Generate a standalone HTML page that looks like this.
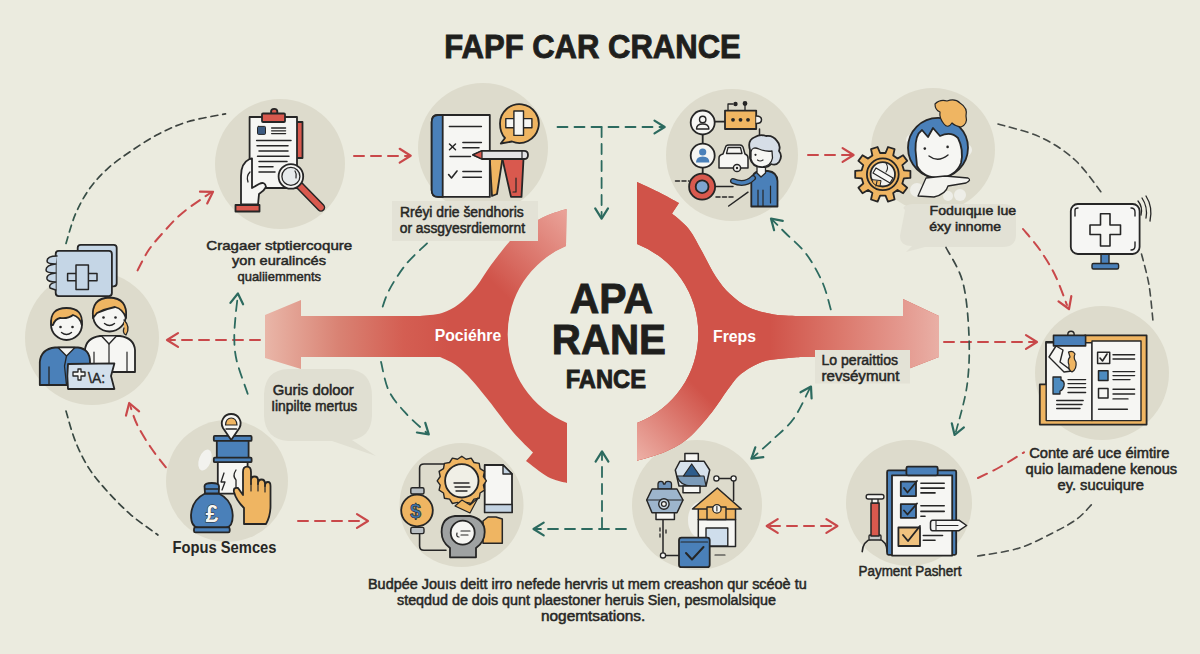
<!DOCTYPE html>
<html><head><meta charset="utf-8"><style>
html,body{margin:0;padding:0;background:#ebebdf;width:1200px;height:654px;overflow:hidden}
svg{display:block}
text{font-family:"Liberation Sans",sans-serif}
</style></head><body>
<svg width="1200" height="654" viewBox="0 0 1200 654">
<defs>
<linearGradient id="gL" gradientUnits="userSpaceOnUse" x1="265" y1="0" x2="450" y2="0">
 <stop offset="0" stop-color="#e9b6a8"/><stop offset="0.4" stop-color="#d98273"/>
 <stop offset="0.75" stop-color="#d45e52"/><stop offset="1" stop-color="#d05349"/></linearGradient>
<linearGradient id="gLt" gradientUnits="userSpaceOnUse" x1="566" y1="212" x2="495" y2="285">
 <stop offset="0" stop-color="#eeb0a6" stop-opacity="0.85"/><stop offset="1" stop-color="#eeb0a6" stop-opacity="0"/></linearGradient>
<linearGradient id="gR" gradientUnits="userSpaceOnUse" x1="770" y1="0" x2="940" y2="0">
 <stop offset="0" stop-color="#d05349"/><stop offset="0.4" stop-color="#db776b"/>
 <stop offset="0.77" stop-color="#e4988e"/><stop offset="1" stop-color="#e9b0a6"/></linearGradient>
<linearGradient id="gRb" gradientUnits="userSpaceOnUse" x1="640" y1="460" x2="705" y2="395">
 <stop offset="0" stop-color="#efb8ae" stop-opacity="0.9"/><stop offset="1" stop-color="#efb8ae" stop-opacity="0"/></linearGradient>
<linearGradient id="gArcA" gradientUnits="userSpaceOnUse" x1="0" y1="245" x2="0" y2="110">
 <stop offset="0" stop-color="#2f5f50"/><stop offset="0.5" stop-color="#3a4742"/><stop offset="1" stop-color="#3d403d"/></linearGradient>
<linearGradient id="gArcB" gradientUnits="userSpaceOnUse" x1="0" y1="405" x2="0" y2="540">
 <stop offset="0" stop-color="#374a43"/><stop offset="1" stop-color="#3a433f"/></linearGradient>
<linearGradient id="gArcC" gradientUnits="userSpaceOnUse" x1="0" y1="245" x2="0" y2="440">
 <stop offset="0" stop-color="#3d4341"/><stop offset="1" stop-color="#2d6b5c"/></linearGradient>
</defs>
<rect width="1200" height="654" fill="#ebebdf"/>
<circle cx="280" cy="164" r="65" fill="#dddbcc"/>
<circle cx="483" cy="148" r="65" fill="#dddbcc"/>
<circle cx="732" cy="155" r="66" fill="#dddbcc"/>
<circle cx="933" cy="150" r="62" fill="#dddbcc"/>
<circle cx="92" cy="338" r="67" fill="#dddbcc"/>
<circle cx="227" cy="481" r="61" fill="#dddbcc"/>
<circle cx="461.5" cy="505" r="62" fill="#dddbcc"/>
<circle cx="697" cy="505" r="65" fill="#dddbcc"/>
<circle cx="909" cy="503" r="63" fill="#dddbcc"/>
<circle cx="1102" cy="373" r="67" fill="#dddbcc"/>
<path d="M905,210 Q900,206 912,204 L1005,204 Q1016,205 1016,216 L1016,236 Q1015,247 1003,247 L925,247 L906,252 L912,246 Q900,246 900,236 Z" fill="#e2e1d5"/>
<path d="M288,369 L348,369 Q372,371 372,396 L372,416 Q371,437 352,440 L376,456 L332,441 L288,441 Q265,439 264,416 L264,394 Q265,370 288,369 Z" fill="#e0dfd2"/>
<path d="M566.5,209.0 C563.2,210.1 553.1,212.8 547.0,215.5 C540.9,218.2 535.8,221.1 530.0,225.0 C524.2,228.9 518.5,232.3 512.0,239.0 C505.5,245.7 497.0,257.0 491.0,265.0 C485.0,273.0 481.3,280.5 476.0,287.0 C470.7,293.5 464.7,299.7 459.0,304.0 C453.3,308.3 448.5,311.0 442.0,313.0 C435.5,315.0 423.7,315.5 420.0,316.0 L301,316 L301,300 L265,315 L265,358 L301,369 L301,357L440.0,357.0 C442.5,358.2 450.2,361.2 455.0,364.5 C459.8,367.8 463.3,370.9 469.0,377.0 C474.7,383.1 481.7,391.8 489.0,401.0 C496.3,410.2 505.7,423.4 513.0,432.0 C520.3,440.6 529.7,449.1 533.0,452.5L526.0,461.0 C529.7,463.7 541.2,473.3 548.0,477.0 C554.8,480.7 563.8,482.0 567.0,483.0 L567,423 A96,96 0 0 1 566,246 Z" fill="url(#gL)"/>
<path d="M566.5,209.0 C563.2,210.1 553.1,212.8 547.0,215.5 C540.9,218.2 535.8,221.1 530.0,225.0 C524.2,228.9 518.5,232.3 512.0,239.0 C505.5,245.7 497.0,257.0 491.0,265.0 C485.0,273.0 481.3,280.5 476.0,287.0 C470.7,293.5 464.7,299.7 459.0,304.0 C453.3,308.3 448.5,311.0 442.0,313.0 C435.5,315.0 423.7,315.5 420.0,316.0 L301,316 L301,300 L265,315 L265,358 L301,369 L301,357L440.0,357.0 C442.5,358.2 450.2,361.2 455.0,364.5 C459.8,367.8 463.3,370.9 469.0,377.0 C474.7,383.1 481.7,391.8 489.0,401.0 C496.3,410.2 505.7,423.4 513.0,432.0 C520.3,440.6 529.7,449.1 533.0,452.5L526.0,461.0 C529.7,463.7 541.2,473.3 548.0,477.0 C554.8,480.7 563.8,482.0 567.0,483.0 L567,423 A96,96 0 0 1 566,246 Z" fill="url(#gLt)"/>
<path d="M637.0,182.0 C640.6,183.7 651.5,188.5 658.5,192.0 C665.5,195.5 675.6,201.2 679.0,203.0L672.0,213.5 C674.8,216.1 683.7,222.5 688.8,229.0 C693.9,235.5 698.1,244.6 702.6,252.6 C707.1,260.6 711.4,270.1 716.0,277.0 C720.6,283.9 724.5,288.9 730.0,294.0 C735.5,299.1 741.7,304.2 749.0,307.6 C756.3,311.0 765.5,313.1 774.0,314.5 C782.5,315.9 795.7,315.8 800.0,316.0 L903,316 L903,299 L939,316 L939,357 L903,371 L903,357L800.0,357.0 C796.8,357.3 786.8,357.9 780.5,358.7 C774.2,359.5 768.5,359.5 762.0,362.0 C755.5,364.5 747.2,369.0 741.5,373.6 C735.8,378.2 732.8,383.1 727.8,389.6 C722.8,396.1 718.2,404.5 711.7,412.5 C705.2,420.5 696.4,431.3 688.8,437.8 C681.2,444.3 674.5,447.7 665.9,451.5 C657.3,455.3 641.8,459.2 637.0,460.7 L637,423 A96,96 0 0 0 637,244 Z" fill="#d05349"/>
<path d="M637.0,182.0 C640.6,183.7 651.5,188.5 658.5,192.0 C665.5,195.5 675.6,201.2 679.0,203.0L672.0,213.5 C674.8,216.1 683.7,222.5 688.8,229.0 C693.9,235.5 698.1,244.6 702.6,252.6 C707.1,260.6 711.4,270.1 716.0,277.0 C720.6,283.9 724.5,288.9 730.0,294.0 C735.5,299.1 741.7,304.2 749.0,307.6 C756.3,311.0 765.5,313.1 774.0,314.5 C782.5,315.9 795.7,315.8 800.0,316.0 L903,316 L903,299 L939,316 L939,357 L903,371 L903,357L800.0,357.0 C796.8,357.3 786.8,357.9 780.5,358.7 C774.2,359.5 768.5,359.5 762.0,362.0 C755.5,364.5 747.2,369.0 741.5,373.6 C735.8,378.2 732.8,383.1 727.8,389.6 C722.8,396.1 718.2,404.5 711.7,412.5 C705.2,420.5 696.4,431.3 688.8,437.8 C681.2,444.3 674.5,447.7 665.9,451.5 C657.3,455.3 641.8,459.2 637.0,460.7 L637,423 A96,96 0 0 0 637,244 Z" fill="url(#gR)" />
<path d="M637.0,182.0 C640.6,183.7 651.5,188.5 658.5,192.0 C665.5,195.5 675.6,201.2 679.0,203.0L672.0,213.5 C674.8,216.1 683.7,222.5 688.8,229.0 C693.9,235.5 698.1,244.6 702.6,252.6 C707.1,260.6 711.4,270.1 716.0,277.0 C720.6,283.9 724.5,288.9 730.0,294.0 C735.5,299.1 741.7,304.2 749.0,307.6 C756.3,311.0 765.5,313.1 774.0,314.5 C782.5,315.9 795.7,315.8 800.0,316.0 L903,316 L903,299 L939,316 L939,357 L903,371 L903,357L800.0,357.0 C796.8,357.3 786.8,357.9 780.5,358.7 C774.2,359.5 768.5,359.5 762.0,362.0 C755.5,364.5 747.2,369.0 741.5,373.6 C735.8,378.2 732.8,383.1 727.8,389.6 C722.8,396.1 718.2,404.5 711.7,412.5 C705.2,420.5 696.4,431.3 688.8,437.8 C681.2,444.3 674.5,447.7 665.9,451.5 C657.3,455.3 641.8,459.2 637.0,460.7 L637,423 A96,96 0 0 0 637,244 Z" fill="url(#gRb)"/>
<path d="M354,156 L409,156" fill="none" stroke="#c9484a" stroke-width="2.0" stroke-dasharray="10 7" stroke-linecap="round" />
<path d="M399.7,162.6 L410.7,155.7 L399.7,148.8" fill="none" stroke="#c9484a" stroke-width="2.2" stroke-linecap="round" stroke-linejoin="round"/>
<path d="M808,155 L852,155" fill="none" stroke="#c9484a" stroke-width="2.0" stroke-dasharray="10 7" stroke-linecap="round" />
<path d="M842.6,161.9 L853.6,155 L842.6,148.1" fill="none" stroke="#c9484a" stroke-width="2.2" stroke-linecap="round" stroke-linejoin="round"/>
<path d="M260,340 L170,340" fill="none" stroke="#c9484a" stroke-width="2.0" stroke-dasharray="10 7" stroke-linecap="round" />
<path d="M178.0,333.1 L167,340 L178.0,346.9" fill="none" stroke="#c9484a" stroke-width="2.2" stroke-linecap="round" stroke-linejoin="round"/>
<path d="M298,521 L366,521" fill="none" stroke="#c9484a" stroke-width="2.0" stroke-dasharray="10 7" stroke-linecap="round" />
<path d="M357.0,527.9 L368,521 L357.0,514.1" fill="none" stroke="#c9484a" stroke-width="2.2" stroke-linecap="round" stroke-linejoin="round"/>
<path d="M944,342 L1035,342" fill="none" stroke="#c9484a" stroke-width="2.0" stroke-dasharray="10 7" stroke-linecap="round" />
<path d="M1026.0,348.9 L1037,342 L1026.0,335.1" fill="none" stroke="#c9484a" stroke-width="2.2" stroke-linecap="round" stroke-linejoin="round"/>
<path d="M770,526 L835,526" fill="none" stroke="#c9484a" stroke-width="2.0" stroke-dasharray="10 7" stroke-linecap="round" />
<path d="M826.4,532.9 L837.4,526 L826.4,519.1" fill="none" stroke="#c9484a" stroke-width="2.2" stroke-linecap="round" stroke-linejoin="round"/>
<path d="M777.7,519.1 L766.7,526 L777.7,532.9" fill="none" stroke="#c9484a" stroke-width="2.2" stroke-linecap="round" stroke-linejoin="round"/>
<path d="M137.6,270.4 C139.4,267.0 144.2,256.6 148.7,250.0 C153.2,243.4 159.0,237.1 164.7,230.8 C170.4,224.5 175.3,218.8 183.0,212.4 C190.7,206.0 206.3,195.8 211.0,192.5" fill="none" stroke="#c9484a" stroke-width="2.0" stroke-dasharray="10 7" stroke-linecap="round" />
<path d="M207.2,203.4 L213,191.8 L200.0,191.7" fill="none" stroke="#c9484a" stroke-width="2.2" stroke-linecap="round" stroke-linejoin="round"/>
<path d="M165.9,467.3 C163.4,464.1 155.8,454.9 151.0,447.8 C146.2,440.7 140.7,431.9 137.2,424.8 C133.7,417.7 131.2,408.3 130.0,405.0" fill="none" stroke="#c9484a" stroke-width="2.0" stroke-dasharray="10 7" stroke-linecap="round" />
<path d="M139.1,411.4 L129.2,403 L126.0,415.6" fill="none" stroke="#c9484a" stroke-width="2.2" stroke-linecap="round" stroke-linejoin="round"/>
<path d="M1023.0,229.0 C1025.8,232.5 1034.7,242.3 1040.0,250.0 C1045.3,257.7 1050.5,265.8 1055.0,275.0 C1059.5,284.2 1065.0,300.0 1067.0,305.0" fill="none" stroke="#c9484a" stroke-width="2.0" stroke-dasharray="10 7" stroke-linecap="round" />
<path d="M1058.5,301.3 L1069,309 L1071.3,296.2" fill="none" stroke="#c9484a" stroke-width="2.2" stroke-linecap="round" stroke-linejoin="round"/>
<path d="M978.0,478.0 C981.7,476.2 992.3,471.3 1000.0,467.0 C1007.7,462.7 1020.0,454.8 1024.0,452.3" fill="none" stroke="#c9484a" stroke-width="2.0" stroke-dasharray="10 7" stroke-linecap="round" />
<path d="M66.0,243.4 C67.5,238.6 71.4,223.7 75.2,214.7 C79.0,205.7 83.6,197.2 89.0,189.5 C94.4,181.8 100.5,175.1 107.4,168.8 C114.3,162.5 121.9,157.3 130.3,151.6 C138.7,145.9 148.2,139.4 157.8,134.4 C167.4,129.4 176.4,125.2 187.7,121.8 C199.0,118.4 219.2,115.1 225.5,113.8" fill="none" stroke="url(#gArcA)" stroke-width="1.7" stroke-dasharray="7 5" stroke-linecap="round" />
<path d="M66.0,411.0 C67.5,416.0 71.4,431.3 75.2,440.9 C79.0,450.5 83.6,460.0 89.0,468.4 C94.4,476.8 100.5,483.8 107.4,491.4 C114.3,499.0 121.9,507.0 130.3,514.3 C138.7,521.6 153.3,531.5 157.9,535.0" fill="none" stroke="url(#gArcB)" stroke-width="1.7" stroke-dasharray="7 5" stroke-linecap="round" />
<path d="M247.7,393.8 C245.9,388.3 238.9,369.9 236.7,360.7 C234.5,351.5 234.5,346.0 234.3,338.7 C234.1,331.4 234.9,324.0 235.5,316.7 C236.1,309.4 237.5,298.6 237.9,295.0" fill="none" stroke="#2c6a5f" stroke-width="1.8" stroke-dasharray="10 7" stroke-linecap="round" />
<path d="M243.1,304.3 L237.9,293.5 L230.4,302.9" fill="none" stroke="#2c6a5f" stroke-width="2.2" stroke-linecap="round" stroke-linejoin="round"/>
<path d="M427.0,243.4 C423.5,246.9 412.3,256.5 405.9,264.4 C399.5,272.3 392.8,283.1 388.7,291.0 C384.6,298.9 382.3,308.5 381.0,312.0" fill="none" stroke="#2c6a5f" stroke-width="1.8" stroke-dasharray="10 7" stroke-linecap="round" />
<path d="M381.0,361.8 C382.3,366.6 384.6,381.9 388.7,390.5 C392.8,399.1 399.3,406.1 405.9,413.4 C412.4,420.6 424.3,430.6 428.0,434.0" fill="none" stroke="#2c6a5f" stroke-width="1.8" stroke-dasharray="10 7" stroke-linecap="round" />
<path d="M416.9,432.5 L428.8,434.4 L425.3,422.9" fill="none" stroke="#2c6a5f" stroke-width="2.2" stroke-linecap="round" stroke-linejoin="round"/>
<path d="M557.5,127 L663,127" fill="none" stroke="#2c6a5f" stroke-width="1.8" stroke-dasharray="10 7" stroke-linecap="round" />
<path d="M654.5,133.4 L664.7,127 L654.5,120.6" fill="none" stroke="#2c6a5f" stroke-width="2.2" stroke-linecap="round" stroke-linejoin="round"/>
<path d="M601.6,127 L601.6,217" fill="none" stroke="#2c6a5f" stroke-width="1.8" stroke-dasharray="10 7" stroke-linecap="round" />
<path d="M595.2,208.4 L601.6,218.6 L608.0,208.4" fill="none" stroke="#2c6a5f" stroke-width="2.2" stroke-linecap="round" stroke-linejoin="round"/>
<path d="M626,529 L535,529" fill="none" stroke="#2c6a5f" stroke-width="1.8" stroke-dasharray="10 7" stroke-linecap="round" />
<path d="M543.7,522.6 L533.5,529 L543.7,535.4" fill="none" stroke="#2c6a5f" stroke-width="2.2" stroke-linecap="round" stroke-linejoin="round"/>
<path d="M602,528 L602,453" fill="none" stroke="#2c6a5f" stroke-width="1.8" stroke-dasharray="10 7" stroke-linecap="round" />
<path d="M608.4,461.6 L602,451.4 L595.6,461.6" fill="none" stroke="#2c6a5f" stroke-width="2.2" stroke-linecap="round" stroke-linejoin="round"/>
<path d="M830.8,309.4 C829.4,304.9 826.6,291.8 822.5,282.5 C818.4,273.2 812.2,261.9 806.0,253.7 C799.8,245.4 791.1,238.7 785.4,233.0 C779.7,227.3 774.2,221.8 772.0,219.6" fill="none" stroke="#2c6a5f" stroke-width="1.8" stroke-dasharray="10 7" stroke-linecap="round" />
<path d="M782.8,220.9 L771,218.6 L774.1,230.2" fill="none" stroke="#2c6a5f" stroke-width="2.2" stroke-linecap="round" stroke-linejoin="round"/>
<path d="M810.0,387.8 C807.3,392.9 799.8,410.1 793.6,418.7 C787.4,427.3 779.9,432.8 773.0,439.4 C766.1,445.9 755.8,454.9 752.4,458.0" fill="none" stroke="#2c6a5f" stroke-width="1.8" stroke-dasharray="10 7" stroke-linecap="round" />
<path d="M811.6,398.5 L811,386.5 L800.5,392.3" fill="none" stroke="#2c6a5f" stroke-width="2.2" stroke-linecap="round" stroke-linejoin="round"/>
<path d="M755.3,447.3 L751.4,458.6 L763.3,457.1" fill="none" stroke="#2c6a5f" stroke-width="2.2" stroke-linecap="round" stroke-linejoin="round"/>
<path d="M946.0,247.5 C948.8,253.3 959.1,267.8 962.9,282.5 C966.7,297.2 968.3,318.8 969.0,336.0 C969.7,353.2 969.2,369.5 967.0,385.7 C964.8,401.9 957.5,425.1 955.6,433.0" fill="none" stroke="url(#gArcC)" stroke-width="1.7" stroke-dasharray="8 6" stroke-linecap="round" />
<path d="M951.8,423.3 L954.6,435 L963.9,427.4" fill="none" stroke="#2c6a5f" stroke-width="2.2" stroke-linecap="round" stroke-linejoin="round"/>
<path d="M998.0,124.0 C1005.0,126.2 1027.2,131.0 1040.0,137.0 C1052.8,143.0 1064.5,150.4 1075.0,160.0 C1085.5,169.6 1098.3,188.8 1103.0,194.6" fill="none" stroke="#454a47" stroke-width="1.6" stroke-dasharray="7 5" stroke-linecap="round" />
<path d="M1141.5,254.0 C1142.8,259.2 1147.1,273.8 1149.0,285.0 C1150.9,296.2 1152.3,315.0 1153.0,321.0" fill="none" stroke="#454a47" stroke-width="1.6" stroke-dasharray="7 5" stroke-linecap="round" />
<path d="M977.7,556.0 C984.6,554.7 1006.2,552.1 1018.8,548.2 C1031.3,544.3 1043.3,537.7 1053.0,532.8 C1062.7,527.9 1070.4,523.9 1077.0,519.0 C1083.6,514.1 1089.8,506.2 1092.4,503.7" fill="none" stroke="#454a47" stroke-width="1.6" stroke-dasharray="7 5" stroke-linecap="round" />
<g stroke="#262626" stroke-width="1.8" stroke-linejoin="round" stroke-linecap="round">
<rect x="295" y="122" width="7.5" height="36" fill="#d9594e"/>
<rect x="249.6" y="117" width="47.4" height="71" fill="#f6f6f3"/>
<circle cx="274.2" cy="112" r="3.2" fill="#d9594e"/>
<rect x="262" y="113.5" width="23" height="8.5" rx="1" fill="#d9594e"/>
<rect x="257.5" y="126.4" width="8" height="8" rx="1" fill="#3c5a80" stroke-width="1"/>
<line x1="271.6" y1="128" x2="285.6" y2="128" stroke-width="1.3"/>
<line x1="271.6" y1="130.8" x2="285.6" y2="130.8" stroke-width="1.3"/>
<line x1="271.6" y1="133.6" x2="285.6" y2="133.6" stroke-width="1.3"/>
<line x1="256.6" y1="140.4" x2="291" y2="140.4" stroke-width="1.5"/>
<line x1="257" y1="145.7" x2="288" y2="145.7" stroke-width="1.5"/>
<line x1="259" y1="151" x2="288" y2="151" stroke-width="1.5"/>
<line x1="257.5" y1="156.2" x2="289" y2="156.2" stroke-width="1.5"/>
<line x1="259" y1="161.5" x2="287" y2="161.5" stroke-width="1.5"/>
<line x1="259" y1="166.8" x2="273" y2="166.8" stroke-width="1.5"/>
<line x1="259" y1="172" x2="275" y2="172" stroke-width="1.5"/>
<path d="M241,204.5 L241,176 Q241,163 249.6,159 L252,158.5 L252,188 L259,184 Q265,181 266,187 Q264,191 259,194 L258,204.5 Z" fill="#f6f6f3"/>
<path d="M250,172 Q246,176 248,182" fill="none" stroke-width="1.3"/>
<rect x="235.5" y="205" width="24" height="6.5" fill="#d9594e"/>
<line x1="300" y1="186" x2="321" y2="207.5" stroke="#262626" stroke-width="8.5"/>
<line x1="300" y1="186" x2="321" y2="207.5" stroke="#d9594e" stroke-width="5.5"/>
<circle cx="290.9" cy="176.4" r="12.3" fill="#f6f6f3"/>
<circle cx="290.9" cy="176.4" r="9" fill="#e7ebec" stroke-width="1.3"/>
<path d="M295,171 Q297,174 296,178" fill="none" stroke-width="1.2"/>
</g>
<g stroke="#262626" stroke-width="1.8" stroke-linejoin="round" stroke-linecap="round">
<path d="M489.8,159 L502.4,159 L497,194 L492,196 Z" fill="#efb562"/>
<path d="M502.4,159 L523.5,159 L521.5,196.9 L511,196.9 Z" fill="#d9594e"/>
<path d="M516,178 L516,192 L513,192" fill="none" stroke-width="1.2"/>
<path d="M438,115 L489.8,115 L489.8,196.9 L438,196.9 Q431.7,196.9 431.7,190 L431.7,122 Q431.7,115 438,115 Z" fill="#f6f6f3"/>
<path d="M438,115 L442.7,115 L442.7,196.9 L438,196.9 Q431.7,196.9 431.7,190 L431.7,122 Q431.7,115 438,115 Z" fill="#4a80b9"/>
<line x1="449.4" y1="126.6" x2="481.4" y2="126.6" stroke-width="1.5"/>
<path d="M449.5,144 L455.5,149.7 M455.5,144 L449.5,149.7" stroke-width="1.5"/>
<line x1="462.9" y1="142.6" x2="481.4" y2="142.6" stroke-width="1.5"/>
<line x1="462.9" y1="147.7" x2="479" y2="147.7" stroke-width="1.5"/>
<line x1="450" y1="156.4" x2="470.5" y2="156.4" stroke-width="1.5"/>
<path d="M448.6,174.5 L451.5,178 L457,171" fill="none" stroke-width="1.6"/>
<line x1="462.9" y1="171.6" x2="481.4" y2="171.6" stroke-width="1.5"/>
<line x1="462.9" y1="177.2" x2="481.4" y2="177.2" stroke-width="1.5"/>
<path d="M482,150.8 L524,150.8 Q528,150.8 528,154.9 Q528,159 524,159 L482,159 L473,154.9 Z" fill="#e3e4e6"/>
<path d="M482,150.8 L473,154.9 L482,159 Z" fill="#d9594e" stroke-width="1.2"/>
<line x1="522" y1="151" x2="522" y2="159" stroke-width="1.2"/>
<path d="M505,138 Q500,133 500,123.6 A19.4,19.4 0 1 1 512,141.5 L500.8,143.5 Z" fill="#efb562"/>
<rect x="505.8" y="118.6" width="26.1" height="9.2" fill="#f6f6f3" stroke-width="1.4"/>
<rect x="513.9" y="111" width="9.6" height="24.4" fill="#f6f6f3" stroke-width="1.4"/>
</g>
<g stroke="#262626" stroke-width="1.8" stroke-linejoin="round" stroke-linecap="round" fill="none">
<line x1="702.7" y1="134" x2="702.7" y2="144"/>
<line x1="702.7" y1="167.5" x2="702.7" y2="174"/>
<line x1="714.6" y1="121.6" x2="725" y2="121.6"/>
<path d="M675.5,181 L689,181" stroke-dasharray="4 2.5" stroke-width="1.5"/>
<path d="M716,197 L734,197" stroke-dasharray="4 2.5" stroke-width="1.5"/>
<line x1="715.5" y1="186.5" x2="733" y2="186.5" stroke-width="1.5"/>
<line x1="728.7" y1="206" x2="748" y2="192.2" stroke-width="1.5"/>
<line x1="759.5" y1="129" x2="759.5" y2="137" stroke-width="1.5"/>
<path d="M728,111 L728,104 L733,104 M745,111 L745,104" stroke-width="1.3"/>
<circle cx="745" cy="103.5" r="1.5" fill="#262626"/>
<circle cx="735.5" cy="104" r="1.3" fill="#262626"/>
<rect x="725" y="110.6" width="31.2" height="18.4" fill="#efb562"/>
<path d="M756.2,116 Q761.5,116 761.5,119.8 Q761.5,123.6 756.2,123.6" fill="#f6f6f3" stroke-width="1.5"/>
<circle cx="733" cy="119.8" r="1.9" fill="#262626" stroke="none"/>
<circle cx="740.5" cy="119.8" r="1.9" fill="#262626" stroke="none"/>
<circle cx="748" cy="119.8" r="1.9" fill="#262626" stroke="none"/>
<circle cx="702.7" cy="122.5" r="12" fill="#f6f6f3"/>
<circle cx="702.7" cy="119.5" r="3.2" stroke-width="1.4"/>
<path d="M696.5,129 Q696.5,124 702.7,124 Q708.9,124 708.9,129 Z" stroke-width="1.4"/>
<circle cx="702.7" cy="155.6" r="12" fill="#f6f6f3"/>
<circle cx="702.7" cy="152" r="3.6" fill="#4a80b9" stroke="none"/>
<path d="M696,162.5 Q696,156.5 702.7,156.5 Q709.4,156.5 709.4,162.5 Z" fill="#4a80b9" stroke="none"/>
<circle cx="702.1" cy="186.7" r="13" fill="#d9594e"/>
<circle cx="702.1" cy="186.7" r="6.4" fill="#7ea4cf"/>
<path d="M719,168 L719,158 Q719,155 723,154 L726,146 Q727,145 729,145 L740,145 Q742,145 743,147 L745,154 Q748,155 748,158 L748,168 Z" fill="#f6f6f3" stroke-width="1.5"/>
<path d="M728,147.5 L726.5,153.5 L742,153.5 L740.5,147.5 Z" fill="#f6f6f3" stroke-width="1.3"/>
<circle cx="737" cy="168" r="3.6" fill="#f6f6f3" stroke-width="1.5"/>
<circle cx="737" cy="168" r="1.2" fill="#262626" stroke="none"/>
<path d="M751.3,206.5 L751.3,181 Q752,172 760,171 L768,171 Q777,172 777.5,181 L777.5,206.5 Z" fill="#4a80b9"/>
<path d="M770.5,186 L770.5,203 M758,190 L758,206.5 M763,190 L763,206.5" stroke-width="1.2"/>
<path d="M753,178 Q745,186 733,181" fill="none" stroke="#262626" stroke-width="6"/>
<path d="M753,178 Q745,186 733,181" fill="none" stroke="#4a80b9" stroke-width="3.4"/>
<path d="M757,166 L757,173 L761,177 L765.5,173 L765.5,166 Z" fill="#f6f6f3" stroke-width="1.3"/>
<path d="M750,150 Q747,140 755,137 Q760,134 766,136 Q773,135 777,141 Q781,145 779,151 Q783,156 779,162 Q776,166 771,164 Q768,168 762,167 Q752,167 750,158 Z" fill="#d6dee7"/>
<path d="M751,152 Q752,146 759,149 Q766,152 772,151 L772.5,158 Q771,166 762,167 Q753,167 751,159 Z" fill="#f6f6f3" stroke-width="1.3"/>
<circle cx="755.5" cy="154.8" r="1.1" fill="#262626" stroke="none"/>
<path d="M757.5,160 Q760,162 763,160" fill="none" stroke-width="1.2"/>
</g>
<g stroke="#262626" stroke-width="1.8" stroke-linejoin="round" stroke-linecap="round">
<circle cx="912" cy="140" r="6" fill="#eeeee8" stroke="none"/>
<circle cx="966" cy="150" r="6" fill="#eeeee8" stroke="none"/>
<circle cx="917" cy="190" r="7" fill="#eeeee8" stroke="none"/>
<circle cx="960" cy="195" r="6" fill="#eeeee8" stroke="none"/>
<circle cx="948" cy="196" r="5" fill="#eeeee8" stroke="none"/>
<circle cx="938" cy="147.8" r="30" fill="#4a80b9"/>
<path d="M915.5,150 Q915,135 922,130 L928,137 L933,128 L940,136 Q951,131 958,138 Q964,150 961,163 Q956,176 940,178 Q923,178 917,166 Z" fill="#f6f6f3"/>
<circle cx="924.8" cy="148.6" r="1.3" fill="#262626" stroke="none"/>
<circle cx="947.6" cy="146.9" r="1.3" fill="#262626" stroke="none"/>
<path d="M929,156 Q938,163 948,155" fill="none" stroke-width="1.4"/>
<path d="M935,104 Q940,99 947,101 Q955,98 960,103 Q968,108 966,116 Q968,124 961,127 Q955,126 952,123 Q948,129 944,124 Q939,118 940,112 Q935,110 935,104 Z" fill="#efb562" stroke-width="1.2"/>
<path d="M918,196 L926,178 L945,176 L968,178 Q972,180 966,183 L948,186 Q946,194 934,197 Z" fill="#f3f3ef" stroke-width="1.3"/>
<path d="M910.4,170.8 L910.4,177.8 L903.9,178.3 L902.3,183.5 L907.2,187.7 L903.1,193.3 L897.5,190.0 L893.2,193.1 L894.6,199.5 L888.0,201.6 L885.5,195.6 L880.1,195.6 L877.6,201.6 L871.0,199.5 L872.4,193.1 L868.1,190.0 L862.5,193.3 L858.4,187.7 L863.3,183.5 L861.7,178.3 L855.2,177.8 L855.2,170.8 L861.7,170.3 L863.3,165.1 L858.4,160.9 L862.5,155.3 L868.1,158.6 L872.4,155.5 L871.0,149.1 L877.6,147.0 L880.1,153.0 L885.5,153.0 L888.0,147.0 L894.6,149.1 L893.2,155.5 L897.5,158.6 L903.1,155.3 L907.2,160.9 L902.3,165.1 L903.9,170.3 Z" fill="#efb562"/>
<circle cx="882.8" cy="174.3" r="15.9" fill="#efb562"/>
<circle cx="882.8" cy="174.3" r="12.2" fill="#f1f1ee"/>
<path d="M872,180 Q873,186 880,186 L881,181 Z" fill="#efb562" stroke-width="1"/>
<path d="M873,173 L876,168 L893,178 L890,183 Z" fill="#f8f8f6" stroke-width="1.2"/>
<path d="M886,163 Q889,168 886,172 M877,181 L876,186" fill="none" stroke-width="1.1"/>
</g>
<g stroke="#262626" stroke-width="1.8" stroke-linejoin="round" stroke-linecap="round">
<rect x="77.7" y="244.8" width="39" height="41.5" rx="3" fill="#c5d6e6"/>
<rect x="55.7" y="250.9" width="56.2" height="45.2" rx="3" fill="#c5d6e6"/>
<rect x="67.6" y="273.5" width="29.4" height="7.3" fill="#c5d6e6" stroke-width="1.5"/>
<rect x="76" y="265" width="12.4" height="24.4" fill="#c5d6e6" stroke-width="1.5"/>
<path d="M57,256 Q47,256 47,261 Q47,264 55.7,264 M55.7,264 Q46,265 46,270 Q46,273 55.7,273 M55.7,273 Q46,274 47,279 Q48,282 55.7,282 M55.7,282 Q48,284 50,288 L55.7,290" fill="#c5d6e6" stroke-width="1.5"/>
<path d="M85,372 L85,350 Q86,338 100,336 L120,336 Q134,338 135,350 L135,372 Z" fill="#f6f6f3"/>
<path d="M102,336.5 L109,344 L116,336.5" fill="#f6f6f3" stroke-width="1.4"/>
<path d="M109,344 L109,372 M94,352 L94,372 M127,352 L127,372" stroke-width="1.2"/>
<circle cx="109.5" cy="315" r="16.5" fill="#f6f6f3"/>
<path d="M93,318 Q91,298 109.5,297.5 Q128,298 126,318 Q123,309 115,307 Q105,309 97,313 Z" fill="#efb562"/>
<path d="M124,320 Q131,327 126,335 Q122,333 124,328" fill="#efb562" stroke-width="1.3"/>
<circle cx="103.5" cy="317.5" r="1.3" fill="#262626" stroke="none"/><circle cx="115.5" cy="317.5" r="1.3" fill="#262626" stroke="none"/>
<path d="M104.5,323.5 Q109.5,327.5 114.5,323.5" fill="none" stroke-width="1.4"/>
<path d="M39.8,385 L39.8,362 Q41,349 55,347.5 L78,347.5 Q90,349 90,362 L90,385 Z" fill="#4a80b9"/>
<path d="M58,347.5 L66.5,356 L75,347.5 Z" fill="#f6f6f3" stroke-width="1.4"/>
<path d="M66.5,356 L64.5,366 L66.5,385 M49,367 L49,385" stroke-width="1.3" fill="none"/>
<circle cx="66.5" cy="324.5" r="15.5" fill="#f6f6f3"/>
<path d="M51.2,325 Q49.5,308 66.5,308 Q83.5,308 81.8,325 Q80,317 73,315 Q68,319 60,318 Q55,319 53,325 Z" fill="#efb562"/>
<circle cx="60.5" cy="327" r="1.3" fill="#262626" stroke="none"/><circle cx="72.5" cy="327" r="1.3" fill="#262626" stroke="none"/>
<path d="M61.5,332.5 Q66.5,336.5 71.5,332.5" fill="none" stroke-width="1.4"/>
<path d="M68,364 L114.4,363.4 L111,376 L114.4,389 L68,389 Q66.7,376 68,364 Z" fill="#d3e0ec"/>
<path d="M73,372 L78,372 L78,369 L81,369 L81,372 L85,372 L85,376 L81,376 L81,380 L78,380 L78,376 L73,376 Z" fill="#f6f6f3" stroke-width="1.3"/>
<text x="88" y="382.5" font-size="14" font-family="Liberation Sans" fill="#262626" stroke="#262626" stroke-width="0.4">\A:</text>
</g>
<g stroke="#262626" stroke-width="1.8" stroke-linejoin="round" stroke-linecap="round">
<ellipse cx="205" cy="460" rx="6" ry="11" fill="#f2f2ee" stroke="none" transform="rotate(20 205 460)"/>
<rect x="217.8" y="461.7" width="29.8" height="32" fill="#f6f6f3"/>
<path d="M224,473 L221,482 L225,482 L222,490 M236,470 Q232,476 236,480 L236,490" fill="none" stroke-width="1.3"/>
<rect x="213.8" y="435.9" width="37.8" height="5" rx="1" fill="#4a80b9"/>
<rect x="216.8" y="440.8" width="31.8" height="17" fill="#4a80b9"/>
<rect x="213.8" y="457.7" width="37.8" height="4.5" rx="1" fill="#4a80b9"/>
<path d="M231.2,440 L223,428 A9.4,9.4 0 1 1 239.4,428 Z" fill="#f6f6f3"/>
<path d="M225.5,425 Q226,418 231.2,418 Q236.4,418 237,425 Z" fill="#efb562" stroke-width="1.2"/>
<line x1="226" y1="429" x2="236.5" y2="429" stroke-width="1.4"/>
<path d="M244,524 L244,508 Q236,500 234,492 Q233,487 238,488 L243,495 L243,472 Q243,466.7 247,466.7 Q251,466.7 251,472 L251,484 L251,480 Q251,476.5 254.5,476.5 Q258,476.5 258,480 L258,484 Q258,479.5 261.5,479.5 Q265,479.5 265,484 L265,486 Q265,482 268,482 Q270.5,482 270.5,486 L270.5,506 Q270.5,516 266,524 Z" fill="#efb562"/>
<path d="M251,484 L251,491 M258,484 L258,491 M265,486 L265,492" stroke-width="1.2"/>
<path d="M205,493.5 Q192,500 191,515 Q191,527 198,527.4 L226,527.4 Q233,527 232.7,515 Q232,500 218.8,493.5 Z" fill="#4a80b9"/>
<path d="M205,493.5 L204.5,486 Q204.8,483 211.8,483 Q218.8,483 219,486 L218.8,493.5 Z" fill="#4a80b9"/>
<line x1="205" y1="489" x2="219" y2="489" stroke-width="1.3"/>
<rect x="194" y="527.4" width="35.7" height="5" rx="1.5" fill="#4a80b9"/>
<text x="211.8" y="522" font-size="23" font-weight="bold" font-family="Liberation Sans" text-anchor="middle" fill="#f6f6f3" stroke="#262626" stroke-width="1" paint-order="stroke">£</text>
</g>
<g stroke="#262626" stroke-width="1.8" stroke-linejoin="round" stroke-linecap="round">
<path d="M419.6,488 L419.6,468 Q419.6,464 424,464 L448,464 M419.6,533.6 L419.6,546 Q419.6,550.3 424,550.3 L446,550.3" fill="none" stroke-width="1.6"/>
<path d="M484.7,465 L503,465 L512,474 L512,512.4 L484.7,512.4 Z" fill="#f6f6f3"/>
<path d="M503,465 L503,474 L512,474 Z" fill="#c3d3e2" stroke-width="1.4"/>
<rect x="484.7" y="504.5" width="27.3" height="7.9" fill="#c3d3e2" stroke-width="1.4"/>
<path d="M483,543.2 L483,521 L488,517 L496,517 L502.3,519 L502.3,543.2 Z" fill="#efb562" stroke-width="1.5"/>
<rect x="410.8" y="487.8" width="13.2" height="6.2" rx="1.5" fill="#b9bfc3" stroke-width="1.4"/>
<rect x="410.8" y="527.4" width="13.2" height="6.2" rx="1.5" fill="#b9bfc3" stroke-width="1.4"/>
<circle cx="417" cy="510.5" r="15.8" fill="#efb562"/>
<text x="410" y="518" font-size="20" font-weight="bold" font-family="Liberation Sans" fill="#3f77b0" stroke="#262626" stroke-width="0.6">$</text>
<path d="M450,557.3 L450,548 Q441.6,542 441.6,532 Q441.6,517.7 455,516 L470,516 Q484.7,519 484.7,532 Q484.7,542 476,548 L476,557.3 Z" fill="#9fa2a2"/>
<circle cx="462.7" cy="532.7" r="12" fill="#f6f6f3"/>
<path d="M457,533 Q456,537 459,537 M461,531 L470,531 M461,535 L468,535" fill="none" stroke-width="1.2"/>
<path d="M486.4,480.8 L483.4,485.1 L484.5,490.2 L480.1,493.0 L479.2,498.2 L474.0,499.1 L471.2,503.5 L466.1,502.4 L461.8,505.4 L457.5,502.4 L452.4,503.5 L449.6,499.1 L444.4,498.2 L443.5,493.0 L439.1,490.2 L440.2,485.1 L437.2,480.8 L440.2,476.5 L439.1,471.4 L443.5,468.6 L444.4,463.4 L449.6,462.5 L452.4,458.1 L457.5,459.2 L461.8,456.2 L466.1,459.2 L471.2,458.1 L474.0,462.5 L479.2,463.4 L480.1,468.6 L484.5,471.4 L483.4,476.5 Z" fill="#efb562" stroke-width="1.4"/>
<circle cx="461.8" cy="480.8" r="16.7" fill="#f0efe6"/>
<path d="M454,483 L469,483 M455,487 L470,487 M456,491 L467,491" stroke-width="1.3"/>
<path d="M455,506 L462,500 L470,505 L478,498 L470,513 Z" fill="#efb562" stroke-width="1.2"/>
</g>
<g stroke="#262626" stroke-width="1.8" stroke-linejoin="round" stroke-linecap="round">
<ellipse cx="700" cy="520" rx="12" ry="18" fill="#f0f0ea" stroke="none"/>
<path d="M663,519.5 L663,555.4 L679,555.4" fill="none" stroke-width="1.5"/>
<circle cx="663" cy="555.4" r="2.6" fill="#f6f6f3" stroke-width="1.3"/>
<path d="M660,528 L660,531 M660,534 L660,537 M666,530 L666,533" stroke-width="1.3"/>
<path d="M716.4,478.4 L733.6,478.4 L733.6,500.4" fill="none" stroke-width="1.5"/>
<circle cx="716.4" cy="478.4" r="2.6" fill="#f6f6f3" stroke-width="1.3"/>
<circle cx="733.6" cy="478.4" r="2.6" fill="#f6f6f3" stroke-width="1.3"/>
<rect x="684.9" y="453.6" width="13.4" height="7.6" fill="#f6f6f3" stroke-width="1.5"/>
<path d="M680,461.2 L704,461.2 L709.7,470 L706,486 L679,486 L675.3,470 Z" fill="#d7e2ec" stroke-width="1.5"/>
<path d="M677,476 Q680,486 692,486 L706,486 L704,476 Z" fill="#7b9bb9" stroke-width="1.2"/>
<path d="M691.7,464 L700,476 L683.4,476 Z" fill="#2e5d8c" stroke-width="1.2"/>
<rect x="683" y="486" width="17" height="6.7" fill="#f6f6f3" stroke-width="1.5"/>
<path d="M658,489 L658,484 Q658,481.3 661,481.3 Q663.5,481.3 663.5,484 L665,484 Q665,481.3 668,481.3 Q671.5,481.3 671.5,484 L671.5,489 Z" fill="#6f93b8" stroke-width="1.3"/>
<path d="M652,489 L677,489 L683,500 L677,512.8 L652,512.8 L646.7,500 Z" fill="#9db5cc" stroke-width="1.5"/>
<line x1="646.7" y1="500" x2="683" y2="500" stroke-width="1.2"/>
<circle cx="663.9" cy="504" r="5.2" fill="#c9d7e4" stroke-width="1.4"/>
<circle cx="663.9" cy="504" r="2.4" fill="#f6f6f3" stroke-width="1.2"/>
<rect x="656" y="512.8" width="18.4" height="6.7" fill="#f6f6f3" stroke-width="1.5"/>
<rect x="698.3" y="519.5" width="37.2" height="27" fill="#f6f6f3" stroke-width="1.5"/>
<rect x="706" y="528" width="21.8" height="18" fill="#cfdeec" stroke-width="1.4"/>
<path d="M715,555 L725,555" stroke-width="1.2"/>
<rect x="698.3" y="507" width="37.2" height="12.5" fill="#efb562" stroke-width="1.5"/>
<path d="M692.5,509 L717.3,488 L741.2,509 Z" fill="#efb562" stroke-width="1.6"/>
<rect x="707" y="507" width="19" height="12.5" fill="#efb562" stroke-width="1.4"/>
<circle cx="716.9" cy="508.9" r="4.2" fill="#f6f6f3" stroke-width="1.3"/>
<line x1="716.9" y1="506.5" x2="716.9" y2="511" stroke-width="1.1"/>
<rect x="679" y="537.6" width="30.7" height="29.6" rx="2.5" fill="#4a80b9"/>
<path d="M681,542 L707.5,542" stroke-width="1.2"/>
<path d="M686,553 L692,559.5 L703.5,547" fill="none" stroke-width="2"/>
</g>
<g stroke="#262626" stroke-width="1.8" stroke-linejoin="round" stroke-linecap="round">
<rect x="887.1" y="470.4" width="69.1" height="84.4" rx="1.5" fill="#4a80b9"/>
<rect x="892" y="475.3" width="60.2" height="80.3" fill="#f6f6f3"/>
<rect x="906.4" y="466.7" width="31.3" height="8.6" rx="1.5" fill="#4a80b9"/>
<rect x="900.8" y="481.7" width="15.2" height="14.4" fill="#4a80b9"/>
<path d="M904,488 L907.5,492.5 L917,481" fill="none" stroke-width="1.8"/>
<rect x="900.8" y="504.2" width="15.2" height="13.6" fill="#4a80b9"/>
<path d="M904,510.5 L907.5,514.5 L917,503.5" fill="none" stroke-width="1.8"/>
<rect x="898.4" y="527.5" width="21.6" height="18.5" fill="#f0c27e"/>
<path d="M903,535 L908,541 L920,526" fill="none" stroke-width="1.9"/>
<line x1="920.9" y1="483.3" x2="944.2" y2="483.3" stroke-width="1.6"/>
<line x1="920.9" y1="488.1" x2="944.2" y2="488.1" stroke-width="1.6"/>
<line x1="920.9" y1="492.9" x2="935" y2="492.9" stroke-width="1.6"/>
<line x1="920.9" y1="505.8" x2="944.2" y2="505.8" stroke-width="1.6"/>
<line x1="920.9" y1="511.4" x2="944.2" y2="511.4" stroke-width="1.6"/>
<line x1="920.9" y1="516.2" x2="925" y2="516.2" stroke-width="1.6"/>
<line x1="923.3" y1="535.5" x2="942.5" y2="535.5" stroke-width="1.6"/>
<line x1="923.3" y1="540.3" x2="935" y2="540.3" stroke-width="1.6"/>
<path d="M932.5,520.2 L959,520.2 L966.6,525.5 L959,530.7 L932.5,530.7 Q930.5,530.7 930.5,528 L930.5,523 Q930.5,520.2 932.5,520.2 Z" fill="#f6f6f3" stroke-width="1.5"/>
<path d="M936,520.5 L936,530.5 M937,525.5 L958,525.5" stroke-width="1.1"/>
<path d="M862.2,551.6 Q863,541 872,538.7 L878,538.7 Q887,541 887.1,551.6" fill="none" stroke-width="1.6"/>
<rect x="869" y="535" width="12" height="5" rx="1" fill="#c6c9c9" stroke-width="1.3"/>
<rect x="871" y="503" width="8.1" height="33" fill="#d9594e" stroke-width="1.5"/>
<rect x="872" y="498" width="6" height="5" fill="#f6f6f3" stroke-width="1.3"/>
<rect x="866.2" y="494.5" width="17.7" height="4.5" rx="2" fill="#f6f6f3" stroke-width="1.4"/>
</g>
<g stroke="#262626" stroke-width="1.8" stroke-linejoin="round" stroke-linecap="round">
<path d="M1039.8,384.4 L1039.8,424.6 L1146.6,424.6 L1146.6,335.4 L1085,335.4 L1085,342 L1046,342 L1046,384.4 Z" fill="#efb562"/>
<path d="M1046.2,342.7 L1092,342.7 L1092,420.6 L1046.2,420.6 Z" fill="#f6f6f3" stroke-width="1.4"/>
<path d="M1092,341 L1141,341 L1141,420.6 L1092,420.6 Z" fill="#f6f6f3" stroke-width="1.4"/>
<path d="M1049,357 L1056,346 L1063,350 L1060,362 L1072,371 L1064,372 Z" fill="#f6f6f3" stroke-width="1.4"/>
<path d="M1068.5,352 Q1073,350 1075,354 Q1073,358 1076,362 Q1077,369 1072,372 Q1068,370 1069,365 Q1067,360 1070,357 Z" fill="#efb562" stroke-width="1.2"/>
<path d="M1053,377 L1061,377 L1061,380 Q1065,381 1064,386 Q1063,390 1060,391 L1060,394 L1053,394 Z" fill="#4d8bbf" stroke-width="1.3"/>
<line x1="1068" y1="379.6" x2="1085.6" y2="379.6" stroke-width="1.4"/>
<line x1="1068" y1="383.6" x2="1085.6" y2="383.6" stroke-width="1.4"/>
<line x1="1068" y1="387.6" x2="1085.6" y2="387.6" stroke-width="1.4"/>
<line x1="1068" y1="392.5" x2="1085.6" y2="392.5" stroke-width="1.4"/>
<line x1="1056.7" y1="400.5" x2="1083.2" y2="400.5" stroke-width="1.4"/>
<line x1="1056.7" y1="404.5" x2="1082" y2="404.5" stroke-width="1.4"/>
<line x1="1056.7" y1="408.5" x2="1080" y2="408.5" stroke-width="1.4"/>
<line x1="1113" y1="354.7" x2="1134.6" y2="354.7" stroke-width="1.4"/>
<line x1="1113" y1="359" x2="1134.6" y2="359" stroke-width="1.4"/>
<line x1="1113" y1="371.6" x2="1134.6" y2="371.6" stroke-width="1.4"/>
<line x1="1113" y1="375.6" x2="1134.6" y2="375.6" stroke-width="1.4"/>
<line x1="1113" y1="379.6" x2="1130" y2="379.6" stroke-width="1.4"/>
<line x1="1113" y1="389.3" x2="1134.6" y2="389.3" stroke-width="1.4"/>
<line x1="1113" y1="394" x2="1134.6" y2="394" stroke-width="1.4"/>
<line x1="1113" y1="398.9" x2="1128" y2="398.9" stroke-width="1.4"/>
<line x1="1098.5" y1="409.3" x2="1127.4" y2="409.3" stroke-width="1.4"/>
<rect x="1097.6" y="352.3" width="12.1" height="11.3" fill="#f6f6f3" stroke-width="1.5"/>
<path d="M1100,358 L1102.5,361 L1107,354" fill="none" stroke-width="1.6"/>
<rect x="1098.5" y="370.8" width="9.5" height="9.6" fill="#4d8bbf" stroke-width="1.5"/>
<rect x="1098.5" y="388.5" width="9.5" height="9.5" fill="#f6f6f3" stroke-width="1.5"/>
<circle cx="1071" cy="334.5" r="3.2" fill="none" stroke-width="1.4"/>
<rect x="1053.5" y="335.4" width="32.1" height="10.5" fill="#4a80b9" stroke-width="1.6"/>
</g>
<g stroke="#262626" stroke-width="1.8" stroke-linejoin="round" stroke-linecap="round">
<rect x="1101" y="254" width="8" height="10" fill="#4a80b9" stroke-width="1.4"/>
<rect x="1092" y="263.5" width="26.6" height="5.5" rx="1.5" fill="#4a80b9" stroke-width="1.4"/>
<rect x="1070.8" y="204" width="68.8" height="50" rx="7" fill="#f6f6f4"/>
<path d="M1075,216 L1075,210 Q1075,208 1078,208 M1131,208 Q1135,208 1135,212 L1135,216 M1135,242 L1135,246 Q1135,250 1131,250" fill="none" stroke-width="1.4"/>
<path d="M1100.5,213.7 L1110,213.7 L1110,225 L1120.5,225 L1120.5,234.5 L1110,234.5 L1110,246 L1100.5,246 L1100.5,234.5 L1090,234.5 L1090,225 L1100.5,225 Z" fill="#f6f6f3" stroke-width="1.6"/>
<path d="M1138,201 Q1143,207 1141,215 M1142,198 Q1148,207 1146,218 M1146,196 Q1153,207 1150,221" fill="none" stroke-width="1.3"/>
</g>
<text x="444.3" y="58" font-size="33" font-weight="bold" fill="#1f1f1d" textLength="296.5" lengthAdjust="spacingAndGlyphs" stroke="#1f1f1d" stroke-width="0.9">FAPF CAR CRANCE</text>
<text x="569.7" y="312.7" font-size="43" font-weight="bold" fill="#1f1f1d" textLength="83.3" lengthAdjust="spacingAndGlyphs" stroke="#1f1f1d" stroke-width="0.9">APA</text>
<text x="551.8" y="353.5" font-size="42" font-weight="bold" fill="#1f1f1d" textLength="114.2" lengthAdjust="spacingAndGlyphs" stroke="#1f1f1d" stroke-width="0.9">RANE</text>
<text x="565.7" y="388.3" font-size="26" font-weight="bold" fill="#1f1f1d" textLength="80.3" lengthAdjust="spacingAndGlyphs" stroke="#1f1f1d" stroke-width="0.9">FANCE</text>
<text x="434.75" y="340.5" font-size="16" font-weight="bold" fill="#ffffff" textLength="66.4" lengthAdjust="spacingAndGlyphs" >Pociéhre</text>
<text x="713" y="341.5" font-size="16" font-weight="bold" fill="#ffffff" textLength="43" lengthAdjust="spacingAndGlyphs" >Freps</text>
<text x="206.3" y="250.1" font-size="13.5" font-weight="normal" fill="#272725" stroke="#272725" stroke-width="0.5" textLength="145.9" lengthAdjust="spacingAndGlyphs" >Cragaer stptiercoqure</text>
<text x="232.1" y="265.4" font-size="13.5" font-weight="normal" fill="#272725" stroke="#272725" stroke-width="0.5" textLength="93.9" lengthAdjust="spacingAndGlyphs" >yon euralincés</text>
<text x="237.5" y="280.7" font-size="13.5" font-weight="normal" fill="#272725" stroke="#272725" stroke-width="0.5" textLength="83.5" lengthAdjust="spacingAndGlyphs" >qualiiemments</text>
<rect x="392" y="201" width="146" height="40" fill="#e3e2d6"/>
<text x="400" y="217.4" font-size="13.8" font-weight="normal" fill="#272725" stroke="#272725" stroke-width="0.5" textLength="123.7" lengthAdjust="spacingAndGlyphs" >Rréyi drie šendhoris</text>
<text x="399.7" y="233.1" font-size="13.8" font-weight="normal" fill="#272725" stroke="#272725" stroke-width="0.5" textLength="125.3" lengthAdjust="spacingAndGlyphs" >or assgyesrdiemornt</text>
<rect x="815" y="350" width="95" height="33.5" fill="#e3e2d6"/>
<text x="821.5" y="364.7" font-size="14" font-weight="normal" fill="#272725" stroke="#272725" stroke-width="0.5" textLength="76.5" lengthAdjust="spacingAndGlyphs" >Lo peraittios</text>
<text x="821.5" y="380.8" font-size="14" font-weight="normal" fill="#272725" stroke="#272725" stroke-width="0.5" textLength="77.9" lengthAdjust="spacingAndGlyphs" >revséymunt</text>
<text x="272.8" y="395.4" font-size="14" font-weight="normal" fill="#272725" stroke="#272725" stroke-width="0.5" textLength="80.9" lengthAdjust="spacingAndGlyphs" >Guris doloor</text>
<text x="271.2" y="411" font-size="14" font-weight="normal" fill="#272725" stroke="#272725" stroke-width="0.5" textLength="86.1" lengthAdjust="spacingAndGlyphs" >Iinpilte mertus</text>
<text x="929.6" y="215" font-size="13" font-weight="normal" fill="#272725" stroke="#272725" stroke-width="0.5" textLength="86.6" lengthAdjust="spacingAndGlyphs" >Foduıqµıe lue</text>
<text x="929.2" y="230.5" font-size="13" font-weight="normal" fill="#272725" stroke="#272725" stroke-width="0.5" textLength="71.8" lengthAdjust="spacingAndGlyphs" >éxy innome</text>
<text x="1029.2" y="458.1" font-size="14" font-weight="normal" fill="#272725" stroke="#272725" stroke-width="0.5" textLength="140.2" lengthAdjust="spacingAndGlyphs" >Conte aré uce éimtire</text>
<text x="1025.6" y="474.3" font-size="14" font-weight="normal" fill="#272725" stroke="#272725" stroke-width="0.5" textLength="151.6" lengthAdjust="spacingAndGlyphs" >quio laımadene kenous</text>
<text x="1057.5" y="490.3" font-size="14" font-weight="normal" fill="#272725" stroke="#272725" stroke-width="0.5" textLength="86.4" lengthAdjust="spacingAndGlyphs" >ey. sucuiqure</text>
<text x="858.5" y="576" font-size="14" font-weight="normal" fill="#272725" stroke="#272725" stroke-width="0.5" textLength="103" lengthAdjust="spacingAndGlyphs" >Payment Pashert</text>
<text x="172.5" y="553.3" font-size="15.7" font-weight="bold" fill="#272725" textLength="104" lengthAdjust="spacingAndGlyphs" >Fopus Semces</text>
<text x="368" y="588.5" font-size="14" font-weight="normal" fill="#272725" stroke="#272725" stroke-width="0.5" textLength="438.7" lengthAdjust="spacingAndGlyphs" >Budpée Jouıs deitt irro nefede hervris ut mem creashon qur scéoè tu</text>
<text x="397" y="604.5" font-size="14" font-weight="normal" fill="#272725" stroke="#272725" stroke-width="0.5" textLength="379" lengthAdjust="spacingAndGlyphs" >steqdud de dois qunt plaestoner heruis Sien, pesmolalsique</text>
<text x="541" y="621" font-size="14" font-weight="normal" fill="#272725" stroke="#272725" stroke-width="0.5" textLength="104.3" lengthAdjust="spacingAndGlyphs" >nogemtsations.</text>
</svg>
</body></html>
